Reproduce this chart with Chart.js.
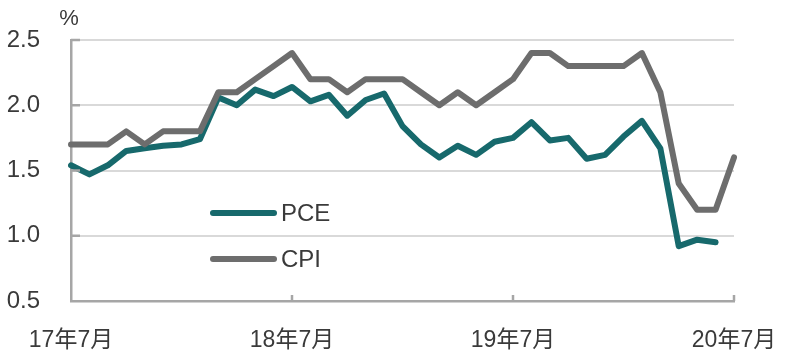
<!DOCTYPE html>
<html>
<head>
<meta charset="utf-8">
<script src="https://cdn.jsdelivr.net/npm/chart.js@4"></script>
<style>
  body { margin: 0; background: #fff; }
  #wrap { width: 785px; height: 359px; }
</style>
</head>
<body>
<div id="wrap"><canvas id="chart" width="785" height="359"></canvas></div>
<script>
// monthly, 17年7月 .. 20年7月
const months = [];
for (let i = 0; i < 37; i++) {
  const y = 17 + Math.floor((6 + i) / 12);
  const m = ((6 + i) % 12) + 1;
  months.push(y + '年' + m + '月');
}
const tickMonths = ['17年7月', '18年7月', '19年7月', '20年7月'];
const yTicks = [0.5, 1.0, 1.5, 2.0, 2.5];

const pce = [1.54, 1.47, 1.54, 1.65, 1.67, 1.69, 1.70, 1.74, 2.06, 2.00, 2.12, 2.07, 2.14,
  2.03, 2.08, 1.92, 2.04, 2.09, 1.84, 1.70, 1.60, 1.69, 1.62, 1.72, 1.75,
  1.87, 1.73, 1.75, 1.59, 1.62, 1.76, 1.88, 1.67, 0.92, 0.97, 0.95, null];
const cpi = [1.7, 1.7, 1.7, 1.8, 1.7, 1.8, 1.8, 1.8, 2.1, 2.1, 2.2, 2.3, 2.4,
  2.2, 2.2, 2.1, 2.2, 2.2, 2.2, 2.1, 2.0, 2.1, 2.0, 2.1, 2.2,
  2.4, 2.4, 2.3, 2.3, 2.3, 2.3, 2.4, 2.1, 1.4, 1.2, 1.2, 1.6];

const FONT = '"Liberation Sans", "Noto Sans CJK JP", sans-serif';
const TEXT = '#3a3a3a';
const AXIS = '#a6a6a6';

// % label, inner ticks and legend inside the plot
const extras = {
  id: 'extras',
  afterDraw(chart) {
    const ctx = chart.ctx;
    const xs = chart.scales.x, ys = chart.scales.y;
    const area = chart.chartArea;
    ctx.save();
    ctx.strokeStyle = AXIS;
    ctx.lineWidth = 2.5;
    yTicks.forEach(v => {
      if (v === yTicks[0]) return;
      const py = ys.getPixelForValue(v);
      ctx.beginPath(); ctx.moveTo(area.left, py); ctx.lineTo(area.left + 9, py); ctx.stroke();
    });
    tickMonths.slice(1).forEach(lbl => {
      const px = xs.getPixelForValue(months.indexOf(lbl));
      ctx.beginPath(); ctx.moveTo(px, area.bottom); ctx.lineTo(px, area.bottom - 6); ctx.stroke();
    });

    ctx.fillStyle = TEXT;
    ctx.font = '22px ' + FONT;
    ctx.textAlign = 'center';
    ctx.textBaseline = 'middle';
    ctx.fillText('%', area.left - 2, 19);

    // legend
    const items = [chart.data.datasets[0], chart.data.datasets[1]];
    const rows = [213, 259];
    ctx.font = '24px ' + FONT;
    ctx.textAlign = 'left';
    items.forEach((ds, i) => {
      ctx.strokeStyle = ds.borderColor;
      ctx.lineWidth = 6;
      ctx.lineCap = 'round';
      ctx.beginPath(); ctx.moveTo(213, rows[i]); ctx.lineTo(274, rows[i]); ctx.stroke();
      ctx.fillStyle = TEXT;
      ctx.fillText(ds.label, 281, rows[i] + 1);
    });
    ctx.restore();
  }
};

new Chart(document.getElementById('chart'), {
  type: 'line',
  data: {
    labels: months,
    datasets: [
      { label: 'PCE', data: pce, borderColor: '#17696c', borderWidth: 6, order: 2 },
      { label: 'CPI', data: cpi, borderColor: '#6d6d6d', borderWidth: 6, order: 1 }
    ]
  },
  options: {
    responsive: false,
    devicePixelRatio: 1,
    animation: false,
    layout: { padding: { left: 0, top: 40, right: 51, bottom: 0 } },
    elements: {
      point: { radius: 0 },
      line: { tension: 0, borderJoinStyle: 'round', borderCapStyle: 'round' }
    },
    plugins: { legend: { display: false }, tooltip: { enabled: false } },
    scales: {
      x: {
        offset: false,
        afterFit(s) { s.height = 58; s.paddingLeft = 0; s.paddingRight = 0; },
        grid: { display: false, drawTicks: false },
        border: { display: true, color: AXIS, width: 2.5 },
        ticks: {
          autoSkip: false, maxRotation: 0, padding: 26,
          color: TEXT, font: { family: FONT, size: 23 },
          callback(v, i) { return tickMonths.includes(months[i]) ? months[i] : null; }
        }
      },
      y: {
        min: 0.5, max: 2.5,
        afterFit(s) { s.width = 71; s.paddingTop = 0; s.paddingBottom = 0; },
        afterBuildTicks(s) { s.ticks = yTicks.map(v => ({ value: v })); },
        grid: { color: '#d9d9d9', lineWidth: 2, drawTicks: false },
        border: { display: true, color: AXIS, width: 2.5 },
        ticks: {
          padding: 31, color: TEXT, font: { family: FONT, size: 24 },
          callback: v => v.toFixed(1)
        }
      }
    }
  },
  plugins: [extras]
});
</script>
</body>
</html>
